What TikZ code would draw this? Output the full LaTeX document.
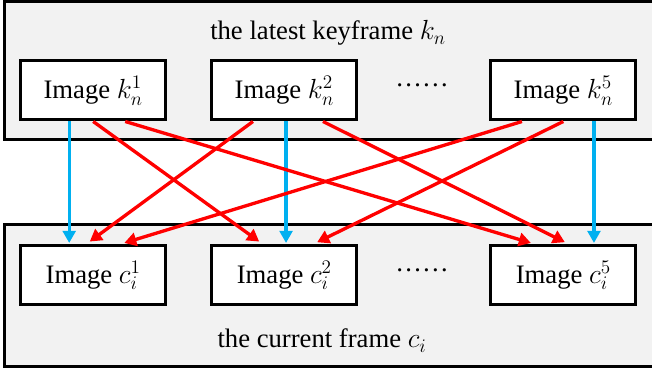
\documentclass[tikz,border=0pt]{standalone}
\usepackage{fontspec}
\setmainfont{Liberation Serif}
\usetikzlibrary{arrows.meta}
\definecolor{framegray}{HTML}{F2F2F2}
\definecolor{linkred}{HTML}{FF0000}
\definecolor{linkblue}{HTML}{00B0F0}
\tikzset{
  txt/.style={font=\fontsize{20}{24}\selectfont,inner sep=0pt},
  img/.style={txt,draw,line width=2.25pt,fill=white,minimum width=108.75pt,minimum height=44.25pt},
  framebox/.style={draw,line width=2.25pt,fill=framegray},
  bluearrow/.style={draw=linkblue,line width=2.4pt,-{Triangle[length=9pt,width=9.5pt]},shorten >=1pt},
  redarrow/.style={draw=linkred,line width=2.5pt,-{Triangle[length=9pt,width=10pt]},shorten >=3.5pt}
}
\begin{document}
\begin{tikzpicture}[x=0.75pt,y=-0.75pt]
\useasboundingbox (0,0) rectangle (652,373);
% the two frames
\draw[framebox] (4.7,1.5) rectangle (670,139.5);
\draw[framebox] (4.7,224.5) rectangle (670,366.5);
\node[txt,anchor=base] (ktitle) at (328,40) {the latest keyframe $k_n$};
\node[txt,anchor=base] (ctitle) at (322,348) {the current frame $c_i$};
% images
\foreach \s/\x in {1/93.2, 2/284.3, 5/563.3}{
  \node[img] (k\s) at (\x,90.5) {Image $k_n^{\s}$};
  \node[img] (c\s) at (\x,275.3) {Image $c_i^{\s}$};
}
\node[txt] (kdots) at (422,85.5) {……};
\node[txt] (cdots) at (422,270.3) {……};
% matches
\foreach \s/\p in {1/-18, 2/1.3, 5/23}
  \draw[bluearrow] ([xshift=\p pt]k\s.south) -- ([xshift=\p pt]c\s.north);
\foreach \a/\p/\b/\q in {k1/0/c2/-16, k1/24/c5/-21, k2/-23.5/c1/-5.4, k2/29/c5/4.3, k5/-31/c1/20, k5/0/c2/21.5}
  \draw[redarrow] ([xshift=\p pt]\a.south) -- ([xshift=\q pt]\b.north);
\end{tikzpicture}
\end{document}
